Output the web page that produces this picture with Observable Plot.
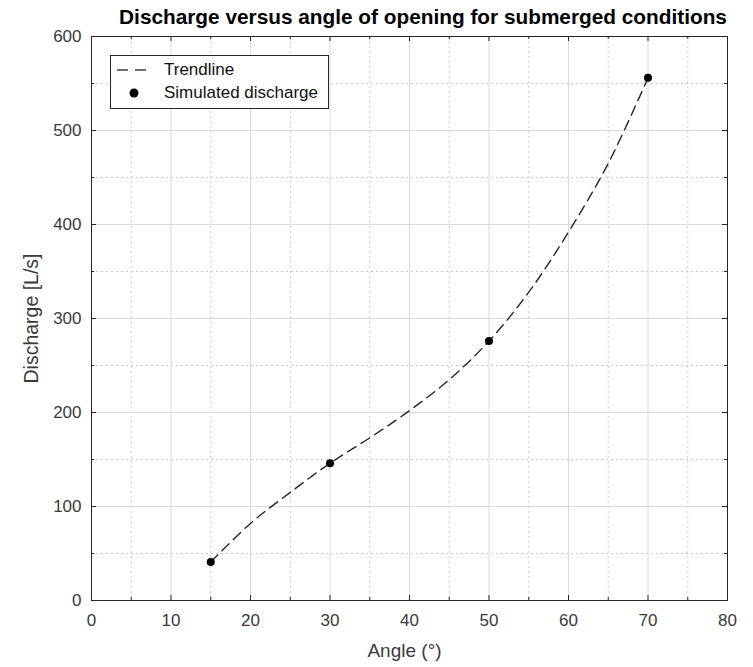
<!DOCTYPE html>
<html>
<head>
<meta charset="utf-8">
<script src="https://cdn.jsdelivr.net/npm/d3@7"></script>
<script src="https://cdn.jsdelivr.net/npm/@observablehq/plot@0.6"></script>
<style>
  body { margin: 0; background: #fff; font-family: "Liberation Sans", Arial, Helvetica, sans-serif; }
  #wrap { position: relative; width: 753px; height: 667px; }
  #title { position: absolute; left: 105px; width: 636px; top: 5px; text-align: center;
           font-weight: bold; font-size: 20.8px; color: #000; white-space: nowrap; }
  #legend { position: absolute; left: 110px; top: 55px; width: 217px; height: 52px;
            border: 1px solid #262626; background: #fff; font-size: 17px; color: #111; }
  .row { position: absolute; left: 0; height: 20px; display: flex; align-items: center; }
  .row svg { margin-left: 5px; }
  .row span { margin-left: 12px; }
</style>
</head>
<body>
<div id="wrap">
  <div id="title">Discharge versus angle of opening for submerged conditions</div>
  <div id="chart"></div>
  <div id="legend">
    <div class="row" style="top:4px"><svg width="36" height="10"><line x1="1" y1="5" x2="34" y2="5" stroke="#444" stroke-width="1.4" stroke-dasharray="11,7"/></svg><span>Trendline</span></div>
    <div class="row" style="top:27px"><svg width="36" height="10"><circle cx="18" cy="5" r="4.5" fill="#000"/></svg><span>Simulated discharge</span></div>
  </div>
</div>
<script>
const angles = [15, 30, 50, 70];
const discharge = [41, 146, 276, 556];
const trendAngles = [15, 20, 25, 30, 35, 40, 45, 50, 55, 60, 65, 70];
const trendDischarge = [41, 82, 115, 146, 173, 202, 235, 276, 328, 392, 465, 556];
const xMajor = [0, 10, 20, 30, 40, 50, 60, 70, 80];
const xMinor = [5, 15, 25, 35, 45, 55, 65, 75];
const yMajor = [0, 100, 200, 300, 400, 500, 600];
const yMinor = [50, 150, 250, 350, 450, 550];

const points = angles.map((a, i) => ({angle: a, q: discharge[i]}));
const trend = trendAngles.map((a, i) => ({angle: a, q: trendDischarge[i]}));

const W = 753, H = 667, mL = 91, mR = 26, mT = 36, mB = 67;
const ph = H - mT - mB, pw = W - mL - mR;
const axisColor = "#262626";

const chart = Plot.plot({
  width: W, height: H,
  marginLeft: mL, marginRight: mR, marginTop: mT, marginBottom: mB,
  x: {domain: [0, 80]},
  y: {domain: [0, 600]},
  style: {fontFamily: "'Liberation Sans', Arial, Helvetica, sans-serif", fontSize: "17px", color: "#3a3a3a", background: "#fff"},
  marks: [
    Plot.ruleX(xMinor, {stroke: "#c8c8c8", strokeDasharray: "2,3", strokeWidth: 1}),
    Plot.ruleY(yMinor, {stroke: "#c8c8c8", strokeDasharray: "2,3", strokeWidth: 1}),
    Plot.ruleX(xMajor, {stroke: "#dadada", strokeWidth: 1}),
    Plot.ruleY(yMajor, {stroke: "#dadada", strokeWidth: 1}),
    Plot.line(trend, {x: "angle", y: "q", curve: "catmull-rom", stroke: "#262626", strokeWidth: 1.4, strokeDasharray: "10,6"}),
    Plot.dot(points, {x: "angle", y: "q", r: 4, fill: "#000", stroke: "none"}),
    Plot.ruleX(xMajor, {stroke: axisColor, insetTop: ph - 5}),
    Plot.ruleX(xMajor, {stroke: axisColor, insetBottom: ph - 5}),
    Plot.ruleX(xMinor, {stroke: axisColor, insetTop: ph - 3}),
    Plot.ruleX(xMinor, {stroke: axisColor, insetBottom: ph - 3}),
    Plot.ruleY(yMajor, {stroke: axisColor, insetRight: pw - 5}),
    Plot.ruleY(yMajor, {stroke: axisColor, insetLeft: pw - 5}),
    Plot.ruleY(yMinor, {stroke: axisColor, insetRight: pw - 3}),
    Plot.ruleY(yMinor, {stroke: axisColor, insetLeft: pw - 3}),
    Plot.frame({stroke: axisColor, strokeWidth: 1}),
    Plot.axisX({ticks: xMajor, tickSize: 0, tickPadding: 13, label: null, tickFormat: d3.format("d")}),
    Plot.axisY({ticks: yMajor, tickSize: 0, tickPadding: 10, label: null, tickFormat: d3.format("d")}),
    Plot.text(["Angle (°)"], {frameAnchor: "bottom", dx: -5, dy: 56, fontSize: 19, fill: "#3a3a3a"}),
    Plot.text(["Discharge [L/s]"], {frameAnchor: "left", textAnchor: "middle", rotate: -90, dx: -60, fontSize: 19.5, fill: "#3a3a3a"})
  ]
});
document.getElementById("chart").appendChild(chart);
</script>
</body>
</html>
